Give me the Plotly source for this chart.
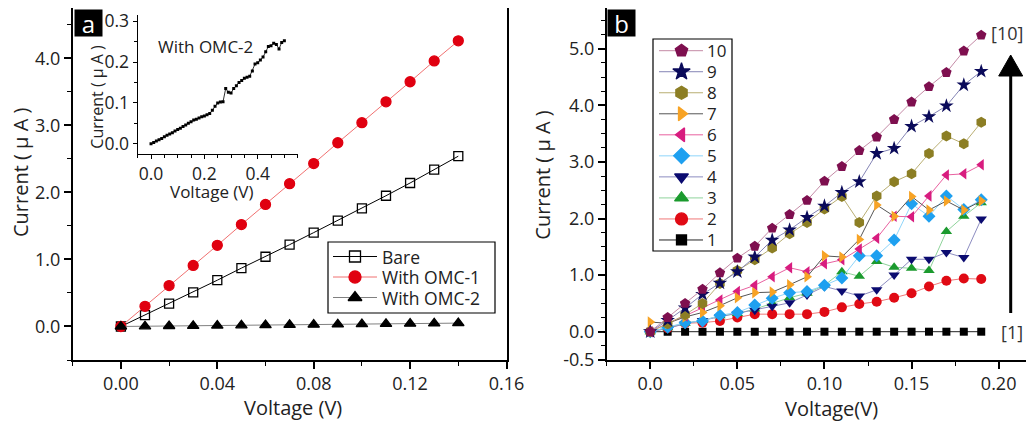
import plotly.graph_objects as go

W, H = 1034, 422
F = "Open Sans"
OFF = 8  # page body margin; layout positions below are screen pixels

# ---------------- data: panel a ----------------
volt_a = [0.00, 0.01, 0.02, 0.03, 0.04, 0.05, 0.06, 0.07, 0.08, 0.09, 0.10, 0.11, 0.12, 0.13, 0.14]
bare = [0, 0.17, 0.34, 0.51, 0.69, 0.87, 1.04, 1.22, 1.40, 1.58, 1.76, 1.95, 2.14, 2.34, 2.54]
omc1 = [0, 0.30, 0.61, 0.91, 1.21, 1.52, 1.82, 2.13, 2.43, 2.74, 3.04, 3.35, 3.65, 3.96, 4.26]
omc2 = [0, 0.003, 0.007, 0.010, 0.013, 0.017, 0.021, 0.024, 0.027, 0.031, 0.035, 0.038, 0.042, 0.046, 0.050]
names_a = ["Bare", "With OMC-1", "With OMC-2"]
series_a = [bare, omc1, omc2]
symbols_a = ["square-open", "circle", "triangle-up"]
mcolors_a = ["#000000", "#E00010", "#000000"]
lcolors_a = ["#000000", "#F07070", "#808080"]
msizes_a = [9, 10, 10]

# inset (With OMC-2, 0 - 0.5 V)
volt_in = [0.00, 0.01, 0.02, 0.03, 0.04, 0.05, 0.06, 0.07, 0.08, 0.09,
           0.10, 0.11, 0.12, 0.13, 0.14, 0.15, 0.16, 0.17, 0.18, 0.19,
           0.20, 0.21, 0.22, 0.23, 0.24, 0.25, 0.26, 0.27, 0.28, 0.29,
           0.30, 0.31, 0.32, 0.33, 0.34, 0.35, 0.36, 0.37, 0.38, 0.39,
           0.40, 0.41, 0.42, 0.43, 0.44, 0.45, 0.46, 0.47, 0.48, 0.49, 0.50]
cur_in = [0.000, 0.003, 0.007, 0.010, 0.013, 0.017, 0.021, 0.024, 0.027, 0.031,
          0.035, 0.038, 0.042, 0.046, 0.050, 0.054, 0.058, 0.060, 0.063, 0.066,
          0.068, 0.071, 0.074, 0.082, 0.092, 0.100, 0.102, 0.103, 0.135, 0.126,
          0.124, 0.135, 0.142, 0.150, 0.155, 0.160, 0.163, 0.165, 0.178, 0.195,
          0.198, 0.205, 0.212, 0.225, 0.238, 0.240, 0.246, 0.243, 0.232, 0.248, 0.252]

# ---------------- data: panel b ----------------
volt_b = [0.00, 0.01, 0.02, 0.03, 0.04, 0.05, 0.06, 0.07, 0.08, 0.09,
          0.10, 0.11, 0.12, 0.13, 0.14, 0.15, 0.16, 0.17, 0.18, 0.19]
cur_1 = [0, 0, 0, 0, 0, 0, 0, 0, 0, 0, 0, 0, 0, 0, 0, 0, 0, 0, 0, 0]
cur_2 = [0, 0.06, 0.15, 0.16, 0.19, 0.25, 0.31, 0.31, 0.31, 0.31, 0.35, 0.43, 0.49, 0.53, 0.60, 0.68, 0.80, 0.90, 0.94, 0.93]
cur_3 = [0, 0.07, 0.15, 0.20, 0.28, 0.32, 0.40, 0.50, 0.60, 0.68, 0.82, 1.06, 0.98, 1.24, 1.14, 1.12, 1.08, 1.77, 2.04, 2.28]
cur_4 = [0, 0.06, 0.14, 0.20, 0.27, 0.32, 0.38, 0.45, 0.51, 0.65, 0.80, 0.72, 0.63, 0.74, 1.00, 1.28, 1.28, 1.40, 1.31, 1.99]
cur_5 = [0, 0.08, 0.16, 0.19, 0.29, 0.34, 0.47, 0.59, 0.69, 0.71, 0.82, 0.95, 1.34, 1.34, 1.62, 2.26, 2.04, 2.40, 2.16, 2.33]
cur_6 = [0, 0.15, 0.28, 0.42, 0.56, 0.71, 0.82, 0.97, 1.13, 1.06, 1.20, 1.27, 1.46, 1.65, 2.04, 2.03, 2.40, 2.77, 2.79, 2.95]
cur_7 = [0.17, 0.15, 0.26, 0.34, 0.46, 0.60, 0.69, 0.70, 0.83, 0.97, 1.34, 1.32, 1.63, 2.24, 2.04, 2.39, 2.15, 2.31, 2.15, 2.31]
cur_8 = [0, 0.14, 0.30, 0.50, 0.85, 1.08, 1.27, 1.48, 1.73, 1.93, 2.17, 2.39, 1.93, 2.40, 2.65, 2.79, 3.15, 3.46, 3.32, 3.70]
cur_9 = [0, 0.20, 0.42, 0.66, 0.86, 1.06, 1.32, 1.62, 1.80, 2.02, 2.22, 2.46, 2.65, 3.15, 3.24, 3.63, 3.80, 3.99, 4.36, 4.60]
cur_10 = [0, 0.25, 0.50, 0.75, 1.04, 1.30, 1.51, 1.83, 2.07, 2.32, 2.66, 2.92, 3.20, 3.44, 3.75, 4.06, 4.33, 4.58, 4.96, 5.24]

names_b = ["1", "2", "3", "4", "5", "6", "7", "8", "9", "10"]
series_b = [cur_1, cur_2, cur_3, cur_4, cur_5, cur_6, cur_7, cur_8, cur_9, cur_10]
symbols_b = ["square", "circle", "triangle-up", "triangle-down", "diamond",
             "triangle-left", "triangle-right", "hexagon", "star", "pentagon"]
mcolors_b = ["#000000", "#E00A14", "#1B9A2E", "#0B0B70", "#1EA0F0",
             "#D81C7F", "#F7A325", "#8C7E24", "#0A0A5A", "#7E0F4F"]
lcolors_b = ["#222222", "#F07878", "#8FD39B", "#8C8CC0", "#8FD5FA",
             "#E8609F", "#555555", "#B9AE72", "#8585B5", "#C48AA6"]
msizes_b = [8, 10, 10, 10, 10, 10, 10, 11, 11, 11]


def px(x):
    return (x - OFF) / W


def py(y):
    return 1 - (y - OFF) / H


fig = go.Figure()

# panel a traces
for nm, ys, sy, mc, lc, ms in zip(names_a, series_a, symbols_a, mcolors_a, lcolors_a, msizes_a):
    fig.add_trace(go.Scatter(x=volt_a, y=ys, name=nm, mode="lines+markers", showlegend=False,
                             line=dict(color=lc, width=1),
                             marker=dict(symbol=sy, size=ms, color=mc, line=dict(width=1.3, color=mc)),
                             xaxis="x", yaxis="y"))

# inset
fig.add_trace(go.Scatter(x=volt_in, y=cur_in, mode="lines+markers", showlegend=False,
                         line=dict(color="#333333", width=1),
                         marker=dict(symbol="square", size=3, color="#000000"),
                         xaxis="x3", yaxis="y3"))

# panel b traces
for nm, ys, sy, mc, lc, ms in zip(names_b, series_b, symbols_b, mcolors_b, lcolors_b, msizes_b):
    fig.add_trace(go.Scatter(x=volt_b, y=ys, name=nm, mode="lines+markers", showlegend=False,
                             line=dict(color=lc, width=1),
                             marker=dict(symbol=sy, size=ms, color=mc),
                             xaxis="x2", yaxis="y2"))

# ---------------- hand-built legends (pixel overlay axis x4/y4) ----------------
def legend_entry(x0, x1, xm, yrow, sy, mc, lc, ms):
    fig.add_trace(go.Scatter(x=[x0, x1], y=[yrow, yrow], mode="lines", showlegend=False,
                             hoverinfo="skip", line=dict(color=lc, width=1),
                             xaxis="x4", yaxis="y4"))
    fig.add_trace(go.Scatter(x=[xm], y=[yrow], mode="markers", showlegend=False,
                             hoverinfo="skip", cliponaxis=False,
                             marker=dict(symbol=sy, size=ms + 2, color=mc, line=dict(width=1.3, color=mc)),
                             xaxis="x4", yaxis="y4"))


def txt(text, x, y, size, xanchor="center", yanchor="middle", angle=0, color="#222222"):
    return dict(text=text, x=px(x), y=py(y), xref="paper", yref="paper",
                xanchor=xanchor, yanchor=yanchor, textangle=angle, showarrow=False,
                borderpad=0, font=dict(family=F, size=size, color=color))


ann = []
# legend a
for i, (nm, sy, mc, lc, ms) in enumerate(zip(names_a, symbols_a, mcolors_a, lcolors_a, msizes_a)):
    yrow = 256.5 + i * 20.5
    legend_entry(333, 377, 355, yrow, sy, mc, lc, ms)
    ann.append(txt(nm, 381, yrow, 17.5, xanchor="left"))
# legend b (10 on top)
for i, (nm, sy, mc, lc, ms) in enumerate(zip(names_b[::-1], symbols_b[::-1], mcolors_b[::-1],
                                            lcolors_b[::-1], msizes_b[::-1])):
    yrow = 50.7 + i * 21.03
    legend_entry(659, 703, 681.5, yrow, sy, mc, lc, ms)
    ann.append(txt(nm, 706, yrow, 17, xanchor="left"))

tickfont = dict(family=F, size=18, color="#222222")
base = dict(showline=True, linecolor="black", linewidth=1.5, ticks="outside", ticklen=7,
            tickwidth=1.5, tickcolor="black", showgrid=False, zeroline=False, tickfont=tickfont,
            automargin=False, ticklabeloverflow="allow")
minor_base = dict(ticks="outside", ticklen=4, tickwidth=1.2, tickcolor="black", showgrid=False)

ya_dom = [py(360), py(8)]
xb_right = -0.025 + (W + OFF - 606.7) / 1742.0

fig.update_layout(
    width=W, height=H, autosize=False,
    margin=dict(l=0, r=0, t=0, b=0, pad=0, autoexpand=False),
    paper_bgcolor="white", plot_bgcolor="rgba(0,0,0,0)",
    font=dict(family=F, color="#222222"),
    showlegend=False,
    xaxis=dict(base, domain=[px(72.7), px(506.5)], anchor="y", range=[-0.02, 0.16],
               tick0=0, dtick=0.04, tickformat=".2f", mirror=True,
               minor=dict(minor_base, tick0=0, dtick=0.02)),
    yaxis=dict(base, domain=ya_dom, anchor="x", range=[-0.5, 4.75],
               tick0=0, dtick=1, tickformat=".1f", mirror=True,
               minor=dict(minor_base, tick0=0, dtick=0.5)),
    xaxis2=dict(base, domain=[px(606.7), 1.0], anchor="y2", range=[-0.025, xb_right],
                tickvals=[0, 0.05, 0.10, 0.15, 0.20], ticktext=["0.0", "0.05", "0.10", "0.15", "0.20"],
                mirror=True,
                minor=dict(minor_base, tickvals=[-0.025, 0.025, 0.075, 0.125, 0.175, 0.225])),
    yaxis2=dict(base, domain=ya_dom, anchor="x2", range=[-0.5, 5.72],
                tickvals=[-0.5, 0, 1, 2, 3, 4, 5], ticktext=["-0.5", "0.0", "1.0", "2.0", "3.0", "4.0", "5.0"],
                mirror=False,
                minor=dict(minor_base, tickvals=[-0.25, 0.25, 0.5, 0.75, 1.25, 1.5, 1.75, 2.25, 2.5, 2.75,
                                                 3.25, 3.5, 3.75, 4.25, 4.5, 4.75, 5.25, 5.5])),
    xaxis3=dict(base, domain=[px(137.7), px(297.7)], anchor="y3", range=[-0.05, 0.55],
                tickvals=[0, 0.2, 0.4], ticktext=["0.0", "0.2", "0.4"],
                ticklen=4, tickwidth=1.2, linewidth=1.2,
                tickfont=dict(family=F, size=17.5, color="#222222"),
                minor=dict(minor_base, tickvals=[-0.05, 0.05, 0.1, 0.15, 0.25, 0.3, 0.35, 0.45, 0.5, 0.55],
                           ticklen=3)),
    yaxis3=dict(base, domain=[py(154), py(15)], anchor="x3", range=[-0.025, 0.315],
                tickvals=[0, 0.1, 0.2, 0.3], ticktext=["0.0", "0.1", "0.2", "0.3"],
                ticklen=4, tickwidth=1.2, linewidth=1.2,
                tickfont=dict(family=F, size=17.5, color="#222222"),
                minor=dict(minor_base, tickvals=[0.05, 0.15, 0.25], ticklen=3)),
    xaxis4=dict(domain=[0, 1], anchor="y4", range=[OFF, W + OFF], visible=False, fixedrange=True),
    yaxis4=dict(domain=[0, 1], anchor="x4", range=[H + OFF, OFF], visible=False, fixedrange=True),
)

# axis titles
ann.append(txt("Current ( μ A )", 20, 172, 20, angle=-90))
ann.append(txt("Current ( μ A )", 541.7, 175, 20, angle=-90))
ann.append(txt("Voltage (V)", 293, 407, 20))
ann.append(txt("Voltage(V)", 831, 408, 20))
# inset titles
ann.append(txt("Current ( μ A )", 96.7, 97, 16, angle=-90))
ann.append(txt("Voltage (V)", 212, 191.5, 17))
ann.append(txt("With OMC-2", 205.7, 46.7, 17))
# panel letters
for letter, xl in (("a", 74), ("b", 606.5)):
    a = txt(letter, xl, 9, 24, xanchor="left", yanchor="top", color="white")
    a.update(bgcolor="black", width=27, height=26)
    ann.append(a)
# arrow labels
ann.append(txt("[10]", 1007, 33, 18, color="#333333"))
ann.append(txt("[1]", 1011.7, 331.7, 18, color="#333333"))
fig.update_layout(annotations=ann)

# legend boxes
fig.add_shape(type="rect", xref="paper", yref="paper", x0=px(328), x1=px(495), y0=py(242), y1=py(313),
              line=dict(color="black", width=1.2), fillcolor="rgba(0,0,0,0)", layer="above")
fig.add_shape(type="rect", xref="paper", yref="paper", x0=px(653), x1=px(732), y0=py(39), y1=py(251),
              line=dict(color="black", width=1.2), fillcolor="rgba(0,0,0,0)", layer="above")

# arrow (decoration)
ax_x = 1010.7
fig.add_shape(type="line", xref="paper", yref="paper",
              x0=px(ax_x), x1=px(ax_x), y0=py(313), y1=py(74),
              line=dict(color="black", width=3))
fig.add_shape(type="path", xref="paper", yref="paper",
              path=f"M {px(ax_x-12)} {py(76)} L {px(ax_x+12)} {py(76)} L {px(ax_x)} {py(55)} Z",
              fillcolor="black", line=dict(color="black", width=1))

fig.write_html("out.html")
